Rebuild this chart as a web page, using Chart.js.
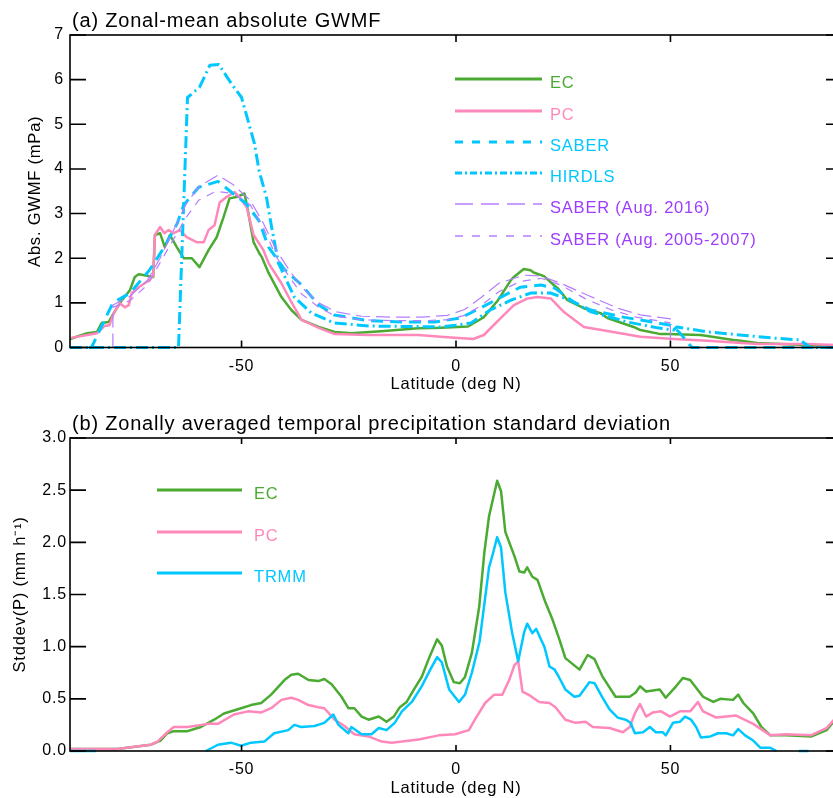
<!DOCTYPE html>
<html>
<head>
<meta charset="utf-8">
<script src="https://cdn.jsdelivr.net/npm/chart.js@4.4.1/dist/chart.umd.min.js"></script>
<style>
  html, body { margin: 0; padding: 0; background: #fff; overflow: hidden; }
  #wrap { position: relative; width: 833px; height: 798px; overflow: hidden; }
  canvas { position: absolute; left: 0; display: block; }
</style>
</head>
<body>
<div id="wrap">
  <canvas id="c1" width="845" height="400" style="top:0px"></canvas>
  <canvas id="c2" width="845" height="398" style="top:400px"></canvas>
</div>
<script>
// ---------------- DATA ----------------
// Tick labels
const xTicks = [-50, 0, 50];
const yTicksA = [0, 1, 2, 3, 4, 5, 6, 7];
const yTicksB = [0.0, 0.5, 1.0, 1.5, 2.0, 2.5, 3.0];

// Panel (a): zonal-mean absolute GWMF (mPa) vs latitude
const latA_EC = [-90,-86,-83.7,-82.6,-81,-79.8,-77.9,-76,-74.9,-74,-72.6,-70.6,-70.2,-69,-67.9,-66.7,-65.1,-63.5,-61.6,-59.8,-57.7,-55.8,-54.2,-52.8,-51.2,-49.3,-48.4,-47.2,-45.8,-45.3,-43.7,-40.7,-38.4,-36,-32,-28.3,-24.4,-16.7,-8.8,-3.5,2.8,5.1,6.5,9.8,12.8,13.5,15.8,17.4,18.1,20.5,22.8,23.7,26,26.7,29.8,33.7,35.3,41.4,43,47.7,49.3,57,58.6,64.7,66.3,70.2,80,85.6,90];
const gwmf_EC = [0.19,0.32,0.35,0.55,0.57,0.77,1.06,1.29,1.58,1.64,1.62,1.58,2.52,2.56,2.25,2.52,2.25,2.0,2.0,1.8,2.18,2.47,2.92,3.34,3.37,3.45,3.0,2.36,2.1,2.03,1.67,1.13,0.84,0.62,0.46,0.35,0.32,0.37,0.43,0.44,0.47,0.6,0.68,1.06,1.51,1.58,1.76,1.73,1.68,1.6,1.4,1.33,1.06,1.03,0.88,0.77,0.66,0.46,0.39,0.3,0.3,0.28,0.26,0.17,0.15,0.1,0.06,0.04,0.03];

const latA_PC = [-90,-86,-83.7,-82,-80.8,-79.8,-78.4,-77.2,-76.3,-75.6,-74,-72.6,-71.4,-70.6,-70.2,-69,-68,-67,-65.8,-64.4,-62.8,-60.5,-58.8,-57.7,-56.3,-55.1,-53.5,-51.6,-50.5,-48.8,-47.2,-44.9,-43.7,-40.7,-38.4,-36,-32,-28.3,-20.5,-8.8,-2,2.5,4,6.5,10,13.5,16.7,19,22.1,25.1,29.8,35.3,43,50.7,58.6,70.2,81.9,90];
const gwmf_PC = [0.21,0.28,0.32,0.48,0.5,0.77,0.99,0.9,0.95,1.22,1.35,1.44,1.51,1.62,2.52,2.7,2.56,2.63,2.56,2.63,2.47,2.36,2.36,2.63,2.74,3.25,3.37,3.48,3.37,3.14,2.52,2.18,1.89,1.44,1.02,0.62,0.44,0.3,0.28,0.28,0.23,0.2,0.19,0.28,0.62,0.95,1.1,1.13,1.1,0.8,0.46,0.37,0.24,0.19,0.15,0.08,0.08,0.05];

const latA_SABER = [-90,-85,-80,-76,-71.5,-68,-65,-63.5,-60,-55.5,-52,-49,-46,-43.7,-40,-36,-32,-28.4,-20.5,-12.8,-5,1,6,10.5,15,19.8,23,27.4,31.4,39,47,50,52,55,90];
const gwmf_SABER = [0,0,1.0,1.22,1.73,2.25,2.78,3.19,3.59,3.72,3.45,3.23,2.85,2.25,1.75,1.4,0.95,0.73,0.6,0.57,0.57,0.66,0.9,1.13,1.35,1.4,1.33,1.02,0.84,0.68,0.55,0.5,0.35,0,0];

const latA_HIRDLS = [-90,-64.7,-62.6,-59.8,-57.4,-55.3,-52.3,-50,-47,-45.9,-44.2,-43,-41.4,-37.7,-33.7,-28.4,-20,-10,-3.5,0,3.5,8,12.8,17.4,22,26.7,31.4,40,47,50.7,51.5,58.6,74,80.2,82.6,90];
const gwmf_HIRDLS = [0,0,5.6,5.83,6.32,6.34,5.9,5.6,4.57,3.95,3.37,2.7,1.89,1.13,0.77,0.55,0.48,0.47,0.46,0.5,0.55,0.84,1.06,1.22,1.22,1.06,0.8,0.57,0.44,0.39,0.46,0.35,0.21,0.17,0,0];

const latA_S2016 = [-80,-80,-76,-72,-69,-66,-63,-60,-55.5,-52,-48,-45,-42,-39,-36,-32,-28,-22,-15,-8,-2,2,6,10,15.8,19.8,24.4,30.7,37.7,43,50,50];
const gwmf_S2016 = [0,0.95,1.15,1.5,2.0,2.6,3.2,3.6,3.86,3.65,3.3,2.8,2.2,1.75,1.35,1.0,0.8,0.7,0.68,0.68,0.72,0.85,1.13,1.44,1.62,1.6,1.44,1.17,0.88,0.73,0.64,0];

const latA_S0507 = [-80,-76,-72,-69,-66,-63,-60,-56,-52,-48,-45,-42,-39,-36,-32,-28,-22,-15,-8,-2,2,6,10,15,19.8,24.4,30,36,42,50];
const gwmf_S0507 = [0.9,1.05,1.4,1.9,2.4,2.9,3.3,3.5,3.45,3.2,2.7,2.05,1.6,1.2,0.9,0.7,0.62,0.6,0.6,0.62,0.72,0.95,1.25,1.48,1.55,1.4,1.1,0.85,0.68,0.55];

// Panel (b): zonally averaged temporal precipitation standard deviation (mm/h)
const latB_EC = [-90,-79,-71.2,-68.9,-67.3,-65.8,-62.6,-59.5,-56.4,-54.1,-50.1,-47.8,-45.4,-43.1,-40,-38.4,-36.8,-34.4,-32.1,-30.7,-29,-26.7,-25.1,-23.7,-22,-20.4,-18,-16.2,-14.5,-13.1,-11.5,-9.8,-8,-6.3,-4.4,-3.3,-2.1,-0.5,0.9,2.1,3.7,5.4,6.6,7.7,9.6,10.5,11.5,13.6,14.8,15.9,16.6,17.8,19,20.8,22.5,24.1,25.5,28.8,30.7,32.3,34.2,37.2,40.5,41.9,42.9,44.3,47.5,48.9,51.3,52.9,54.6,57.6,60,61.6,64.6,65.8,67,69.3,71.2,73.3,77,82.9,86.4,88.8,90];
const sd_EC = [0.02,0.02,0.06,0.1,0.17,0.19,0.19,0.23,0.3,0.36,0.41,0.44,0.46,0.54,0.68,0.73,0.74,0.68,0.67,0.69,0.64,0.52,0.41,0.41,0.33,0.3,0.33,0.28,0.33,0.42,0.47,0.59,0.71,0.89,1.07,1.01,0.81,0.66,0.65,0.71,0.94,1.38,1.9,2.25,2.59,2.49,2.1,1.87,1.72,1.71,1.76,1.67,1.64,1.43,1.26,1.07,0.89,0.78,0.92,0.88,0.71,0.52,0.52,0.56,0.62,0.57,0.59,0.51,0.62,0.7,0.68,0.52,0.47,0.5,0.49,0.54,0.46,0.36,0.23,0.15,0.15,0.14,0.2,0.32,0.36];

const latB_PC = [-90,-79,-71.2,-69.6,-67.3,-65.8,-62.6,-57.8,-55.5,-51.8,-48.5,-45.4,-43.1,-40.7,-38.4,-36.8,-34.4,-32.1,-30.7,-28.3,-26,-23.7,-20.4,-17.3,-15,-12.6,-8.7,-4,-0.2,3,4.4,6.8,8.9,10.8,12.4,13.6,14.5,15.5,17.3,19.4,21.8,23.2,25.5,27.9,30.2,31.9,35.8,38.9,40.5,41.7,42.9,44.3,45.9,47.8,49.9,52.2,54.6,56.4,57.6,60.7,65.3,69.3,73.3,77,82.7,86.4,88.8,90];
const sd_PC = [0.02,0.02,0.06,0.09,0.18,0.23,0.23,0.26,0.26,0.35,0.38,0.37,0.41,0.49,0.51,0.49,0.44,0.42,0.41,0.3,0.24,0.16,0.14,0.09,0.08,0.09,0.11,0.15,0.16,0.2,0.3,0.46,0.54,0.54,0.68,0.82,0.86,0.57,0.53,0.47,0.46,0.42,0.3,0.27,0.28,0.23,0.22,0.18,0.23,0.36,0.45,0.33,0.37,0.38,0.33,0.38,0.38,0.47,0.38,0.32,0.34,0.26,0.15,0.16,0.15,0.22,0.33,0.36];

const latB_TRMM = [-90,-84,-83,-58.3,-55.5,-52.5,-50.1,-47.8,-44.7,-42.4,-39.1,-37.7,-36.1,-33,-30.7,-28.6,-27.4,-25.1,-24.4,-22,-19.7,-18,-16.2,-14.3,-12.6,-10.3,-8,-6,-4.4,-3.3,-1.6,0.7,2.1,3.7,5.5,7.7,8.4,9.6,10.5,11.5,13.1,14.5,15.9,16.6,17.8,18.7,20.6,21.8,23,24.1,25.5,27.6,28.8,31.1,32.3,34.2,35.8,37.7,39.6,40.7,41.7,43.6,45.2,46.6,48.2,48.9,50.6,52.2,53.4,54.8,56,57.1,59.3,61.1,63,64.6,65.8,67.4,69.3,71,73.3,74.7,77,79.9,82.2];
const sd_TRMM = [0,0,null,0,0.06,0.08,0.05,0.08,0.09,0.17,0.2,0.25,0.23,0.24,0.27,0.35,0.25,0.17,0.23,0.16,0.16,0.22,0.2,0.27,0.38,0.47,0.62,0.78,0.9,0.85,0.59,0.47,0.54,0.75,1.05,1.76,1.86,2.05,1.95,1.52,1.13,0.86,1.14,1.22,1.13,1.17,1.0,0.81,0.78,0.7,0.59,0.52,0.53,0.66,0.65,0.51,0.4,0.32,0.3,0.27,0.17,0.18,0.23,0.18,0.18,0.15,0.27,0.28,0.33,0.3,0.23,0.13,0.14,0.17,0.17,0.15,0.21,0.15,0.1,0.03,0.03,0,null,0,0];

// ---------------- STYLE ----------------
const FONT = "'Liberation Sans', Arial, Helvetica, sans-serif";
const GREEN = '#4aaa32', PINK = '#ff88bb', CYAN = '#00c8ff', PURPLE_L = '#b57dff', PURPLE_T = '#9d3cff';

function pts(xs, ys) { return xs.map((x, i) => ({ x: x, y: ys[i] })); }

const decoPlugin = {
  id: 'deco',
  beforeDraw(chart) {
    chart.ctx.letterSpacing = '0.8px';
  },
  afterDraw(chart, args, o) {
    const ctx = chart.ctx;
    const a = chart.chartArea;
    const xs = chart.scales.x, ys = chart.scales.y;
    ctx.save();
    ctx.letterSpacing = '0.8px';
    ctx.strokeStyle = '#000';
    ctx.lineWidth = 1.6;
    ctx.setLineDash([]);
    ctx.strokeRect(a.left, a.top, a.right - a.left, a.bottom - a.top);
    ctx.beginPath();
    xs.ticks.forEach(t => {
      const px = xs.getPixelForValue(t.value);
      ctx.moveTo(px, a.bottom); ctx.lineTo(px, a.bottom - o.xTickLen);
      ctx.moveTo(px, a.top); ctx.lineTo(px, a.top + o.xTickLen);
    });
    ys.ticks.forEach(t => {
      const py = ys.getPixelForValue(t.value);
      ctx.moveTo(a.left, py); ctx.lineTo(a.left + o.yTickLen, py);
      ctx.moveTo(a.right, py); ctx.lineTo(a.right - o.yTickLen, py);
    });
    ctx.stroke();
    // panel title
    ctx.fillStyle = '#000';
    ctx.font = '20px ' + FONT;
    ctx.textAlign = 'left';
    ctx.textBaseline = 'alphabetic';
    ctx.fillText(o.title, 72, o.titleY);
    // legend
    ctx.font = '16.5px ' + FONT;
    o.legend.forEach(e => {
      ctx.beginPath();
      ctx.strokeStyle = e.color;
      ctx.lineWidth = e.width;
      ctx.setLineDash(e.dash || []);
      ctx.moveTo(o.legX0, e.y); ctx.lineTo(o.legX1, e.y);
      ctx.stroke();
      ctx.setLineDash([]);
      ctx.fillStyle = e.textColor || e.color;
      ctx.fillText(e.label, o.legTX, e.y + 8.5);
    });
    ctx.restore();
  }
};

function scaleOpts(min, max, ticksArr, fmt, title, titlePad, isX, fitSize, labelPad) {
  return {
    type: 'linear',
    min: min, max: max,
    grid: { display: false, drawTicks: false, drawOnChartArea: false },
    border: { display: false },
    afterBuildTicks: s => { s.ticks = ticksArr.map(v => ({ value: v })); },
    afterFit: s => { if (isX) s.height = fitSize; else s.width = fitSize; },
    ticks: {
      color: '#000', font: { family: FONT, size: 16 }, padding: labelPad,
      maxRotation: 0, autoSkip: false,
      callback: v => fmt(v)
    },
    title: { display: true, text: title, color: '#000', font: { family: FONT, size: 16.5 }, padding: titlePad }
  };
}

// ---------------- CHART (a) ----------------
new Chart(document.getElementById('c1'), {
  type: 'line',
  data: {
    datasets: [
      { label: 'SABER (Aug. 2016)', data: pts(latA_S2016, gwmf_S2016), borderColor: PURPLE_L, borderWidth: 1.2, borderDash: [14, 6] },
      { label: 'SABER (Aug. 2005-2007)', data: pts(latA_S0507, gwmf_S0507), borderColor: PURPLE_L, borderWidth: 1.2, borderDash: [8, 7] },
      { label: 'HIRDLS', data: pts(latA_HIRDLS, gwmf_HIRDLS), borderColor: CYAN, borderWidth: 3, borderDash: [12, 4, 2, 4] },
      { label: 'SABER', data: pts(latA_SABER, gwmf_SABER), borderColor: CYAN, borderWidth: 3, borderDash: [12, 7] },
      { label: 'PC', data: pts(latA_PC, gwmf_PC), borderColor: PINK, borderWidth: 2.5 },
      { label: 'EC', data: pts(latA_EC, gwmf_EC), borderColor: GREEN, borderWidth: 2.5 }
    ]
  },
  options: {
    responsive: false, animation: false,
    layout: { padding: { top: 35, left: 0, right: 3, bottom: 0 } },
    elements: { point: { radius: 0 }, line: { tension: 0, borderJoinStyle: 'round' } },
    datasets: { line: { clip: false, spanGaps: false, fill: false } },
    plugins: {
      legend: { display: false }, tooltip: { enabled: false },
      deco: {
        title: '(a) Zonal-mean absolute GWMF', titleY: 27,
        xTickLen: 7, yTickLen: 16,
        legX0: 455, legX1: 542, legTX: 550,
        legend: [
          { label: 'EC', color: GREEN, width: 3, y: 79 },
          { label: 'PC', color: PINK, width: 3, y: 111 },
          { label: 'SABER', color: CYAN, width: 3, y: 142, dash: [8, 9] },
          { label: 'HIRDLS', color: CYAN, width: 3, y: 173, dash: [7, 3, 2, 3] },
          { label: 'SABER (Aug. 2016)', color: PURPLE_L, textColor: PURPLE_T, width: 1.3, y: 204, dash: [18, 8] },
          { label: 'SABER (Aug. 2005-2007)', color: PURPLE_L, textColor: PURPLE_T, width: 1.3, y: 236, dash: [8, 9] }
        ]
      }
    },
    scales: {
      x: scaleOpts(-90, 90, xTicks, v => String(v), 'Latitude (deg N)', { top: 0, bottom: 6 }, true, 52.5, 9),
      y: scaleOpts(0, 7, yTicksA, v => String(v), 'Abs. GWMF (mPa)', { top: 26, bottom: 0 }, false, 70, 6)
    }
  },
  plugins: [decoPlugin]
});

// ---------------- CHART (b) ----------------
new Chart(document.getElementById('c2'), {
  type: 'line',
  data: {
    datasets: [
      { label: 'TRMM', data: pts(latB_TRMM, sd_TRMM), borderColor: CYAN, borderWidth: 2.5 },
      { label: 'PC', data: pts(latB_PC, sd_PC), borderColor: PINK, borderWidth: 2.5 },
      { label: 'EC', data: pts(latB_EC, sd_EC), borderColor: GREEN, borderWidth: 2.5 }
    ]
  },
  options: {
    responsive: false, animation: false,
    layout: { padding: { top: 38, left: 0, right: 3, bottom: 0 } },
    elements: { point: { radius: 0 }, line: { tension: 0, borderJoinStyle: 'round' } },
    datasets: { line: { clip: false, spanGaps: false, fill: false } },
    plugins: {
      legend: { display: false }, tooltip: { enabled: false },
      deco: {
        title: '(b) Zonally averaged temporal precipitation standard deviation', titleY: 29.5,
        xTickLen: 6, yTickLen: 16,
        legX0: 157, legX1: 242, legTX: 254,
        legend: [
          { label: 'EC', color: GREEN, width: 3, y: 90 },
          { label: 'PC', color: PINK, width: 3, y: 132 },
          { label: 'TRMM', color: CYAN, width: 3, y: 173 }
        ]
      }
    },
    scales: {
      x: scaleOpts(-90, 90, xTicks, v => String(v), 'Latitude (deg N)', { top: 0, bottom: 0 }, true, 47, 9),
      y: scaleOpts(0, 3, yTicksB, v => Number(v).toFixed(1), 'Stddev(P) (mm h\u207B\u00B9)', { top: 11, bottom: 0 }, false, 70, 3)
    }
  },
  plugins: [decoPlugin]
});
</script>
</body>
</html>
